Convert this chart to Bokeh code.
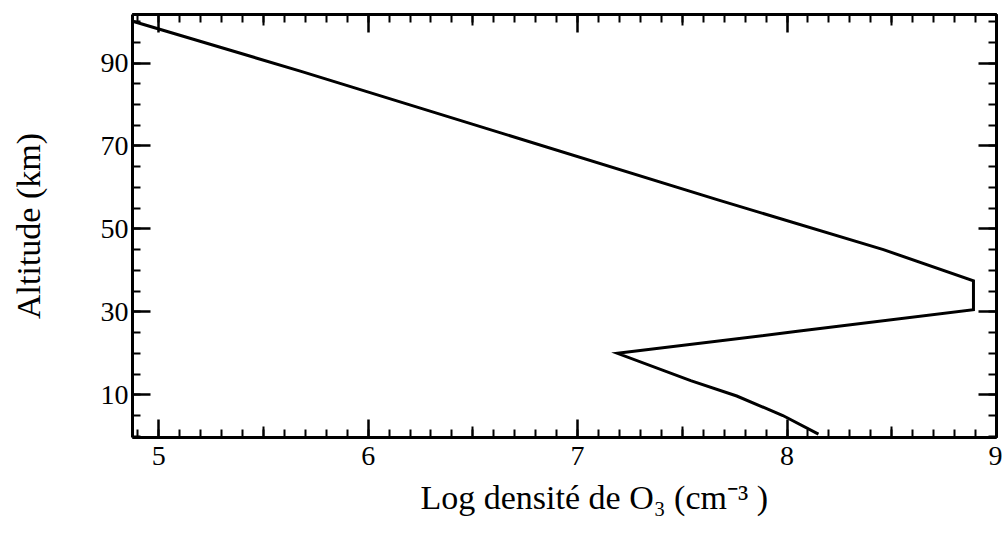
from bokeh.plotting import figure
from bokeh.models import LinearAxis, FixedTicker, Range1d, Title
from bokeh.embed import file_html
from bokeh.resources import INLINE
import numpy as np

# Ozone density profile
log_density = [4.88, 5.68, 7.67, 8.46, 8.89, 8.89, 8.05, 7.19, 7.54, 7.76, 7.98, 8.15]
altitude_km = [100.0, 88.0, 57.0, 45.0, 37.5, 30.5, 25.3, 20.0, 13.4, 9.7, 5.0, 0.5]

x_major = [5, 6, 7, 8, 9]
y_major = [10, 30, 50, 70, 90]
x_label = "Log densité de O₃ (cm⁻³ )"
y_label = "Altitude (km)"

FONT = "Liberation Serif"

x_minor = [round(v, 2) for v in np.arange(4.9, 9.0001, 0.1)]
x_mid = [5.5, 6.5, 7.5, 8.5]
y_minor = [float(v) for v in np.arange(0, 101, 5)]

p = figure(width=1002, height=535, output_backend="svg", toolbar_location=None,
           x_range=Range1d(4.875, 9.0), y_range=Range1d(-0.3, 101.7),
           x_axis_type=None, y_axis_type=None,
           min_border_left=132, min_border_right=6, min_border_top=14, min_border_bottom=98)
p.outline_line_color = None
p.grid.visible = False
p.background_fill_color = "white"
p.border_fill_color = "white"


def tick_axis(ticks, length, line_width):
    """Axis that draws only inward ticks (no labels)."""
    ax = LinearAxis(ticker=FixedTicker(ticks=[], minor_ticks=ticks))
    ax.axis_line_width = 3
    ax.axis_line_color = "black"
    ax.major_tick_in = 0
    ax.major_tick_out = 0
    ax.minor_tick_in = length
    ax.minor_tick_out = 0
    ax.minor_tick_line_width = line_width
    ax.minor_tick_line_color = "black"
    return ax


def label_axis(ticks, minor, label=None):
    ax = LinearAxis(ticker=FixedTicker(ticks=ticks, minor_ticks=minor))
    if label:
        ax.axis_label = label
    ax.axis_line_width = 3
    ax.axis_line_color = "black"
    ax.major_tick_in = 18
    ax.major_tick_out = 0
    ax.minor_tick_in = 8
    ax.minor_tick_out = 0
    ax.major_tick_line_width = 2.5
    ax.minor_tick_line_width = 2
    ax.major_tick_line_color = "black"
    ax.minor_tick_line_color = "black"
    ax.major_label_text_font = FONT
    ax.major_label_text_font_size = "28px"
    ax.major_label_text_color = "black"
    ax.axis_label_text_font = FONT
    ax.axis_label_text_font_size = "34px"
    ax.axis_label_text_font_style = "normal"
    ax.axis_label_text_color = "black"
    return ax

# bottom: medium half-unit ticks first (zero-size panel), then labelled axis
p.add_layout(tick_axis(x_mid, 11, 2), "below")
xb = label_axis(x_major, x_minor)
xb.major_label_standoff = 9
p.add_layout(xb, "below")

# x axis title (a Title so that it can sit slightly right of centre, as in the original)
p.add_layout(Title(text=x_label, align="left", offset=288, standoff=18,
                   text_font=FONT, text_font_size="34px", text_font_style="normal",
                   text_color="black"), "below")

yl = label_axis(y_major, y_minor, y_label)
yl.major_label_standoff = 4
yl.axis_label_standoff = 51
p.add_layout(yl, "left")

# mirrored top and right ticks
p.add_layout(tick_axis(x_minor, 8, 2), "above")
p.add_layout(tick_axis(x_mid, 11, 2), "above")
p.add_layout(tick_axis(x_major, 18, 2.5), "above")
p.add_layout(tick_axis(y_minor, 8, 2), "right")
p.add_layout(tick_axis(y_major, 18, 2.5), "right")

p.line(log_density, altitude_km, line_color="black", line_width=3, line_join="miter")

open("out.html", "w").write(file_html(p, INLINE))
